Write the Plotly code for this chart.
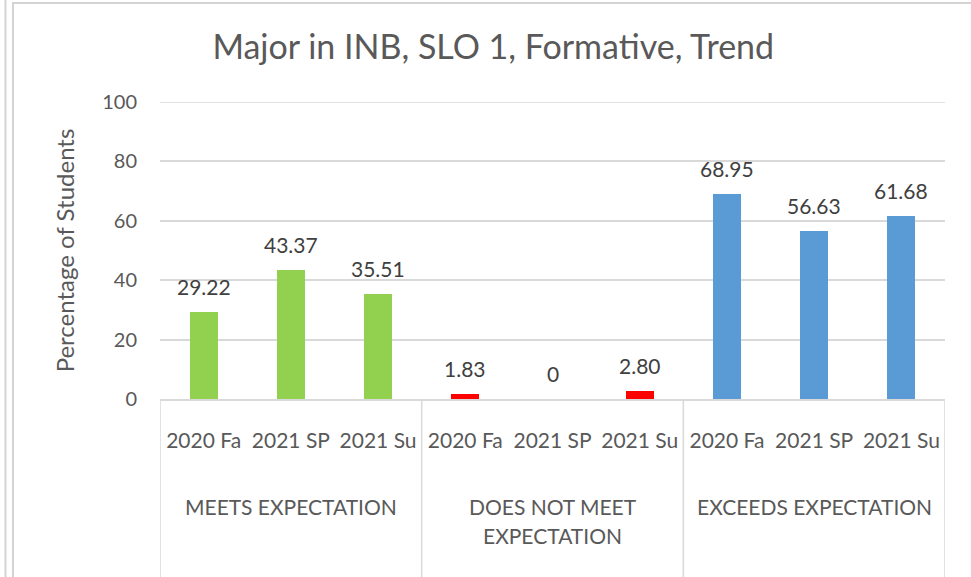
import plotly.graph_objects as go

# Chart data
groups = ["MEETS EXPECTATION", "DOES NOT MEET<br>EXPECTATION", "EXCEEDS EXPECTATION"]
periods = ["2020 Fa", "2021 SP", "2021 Su"]
meets = [29.22, 43.37, 35.51]
does_not_meet = [1.83, 0, 2.80]
exceeds = [68.95, 56.63, 61.68]
value_labels = [["29.22", "43.37", "35.51"], ["1.83", "0", "2.80"], ["68.95", "56.63", "61.68"]]
colors = ["#92D050", "#FF0000", "#5B9BD5"]
y_ticks = [0, 20, 40, 60, 80, 100]

series = [meets, does_not_meet, exceeds]
FONT = "Lato, 'Open Sans', sans-serif"
TXT = "#595959"
LABEL_TXT = "#404040"
GRID = "#D9D9D9"

W, H = 971, 577
ML, MR, MT, MB = 160, 26, 102, 178
PW, PH = W - ML - MR, H - MT - MB

fig = go.Figure()
annotations = []
tickvals, ticktext = [], []
n = len(periods)
for g, (vals, col, labs) in enumerate(zip(series, colors, value_labels)):
    xs = [g * n + i for i in range(n)]
    tickvals += xs
    ticktext += periods
    fig.add_trace(go.Bar(x=xs, y=vals, marker=dict(color=col, line=dict(width=0)),
                         width=0.32, showlegend=False, hoverinfo="y"))
    for x, v, lab in zip(xs, vals, labs):
        annotations.append(dict(x=x, y=v, xref="x", yref="y", text=lab, showarrow=False,
                                yanchor="bottom", yshift=11,
                                font=dict(family=FONT, size=21, color=LABEL_TXT)))
    # group label (one annotation per line) under the period labels
    for k, line in enumerate(groups[g].split("<br>")):
        annotations.append(dict(x=g * n + (n - 1) / 2, y=0, xref="x", yref="paper", text=line,
                                showarrow=False, yanchor="middle", yshift=-107 - 29 * k,
                                font=dict(family=FONT, size=21, color=TXT)))

shapes = []
# top gridline at 100
shapes.append(dict(type="line", xref="paper", yref="y", x0=0, x1=1, y0=100, y1=100,
                   line=dict(color=GRID, width=1.5), layer="below"))
# group dividers below the axis
for b in range(len(groups) + 1):
    xb = b * n - 0.5
    shapes.append(dict(type="line", xref="x", yref="paper", x0=xb, x1=xb,
                       y0=0, y1=-(MB + 5) / PH, line=dict(color=GRID, width=1.5)))

# outer frame lines
def px_to_paper_x(px):
    return (px - ML) / PW

def px_to_paper_y(py):
    return (H - MB - py) / PH

FRAME = "#D4D4D4"
shapes.append(dict(type="line", xref="paper", yref="paper", x0=px_to_paper_x(5.5), x1=px_to_paper_x(5.5),
                   y0=px_to_paper_y(-5), y1=px_to_paper_y(H + 5), line=dict(color=FRAME, width=2)))
shapes.append(dict(type="line", xref="paper", yref="paper", x0=px_to_paper_x(13), x1=px_to_paper_x(13),
                   y0=px_to_paper_y(3), y1=px_to_paper_y(H + 5), line=dict(color=FRAME, width=2)))
shapes.append(dict(type="line", xref="paper", yref="paper", x0=px_to_paper_x(12), x1=px_to_paper_x(W + 5),
                   y0=px_to_paper_y(3), y1=px_to_paper_y(3), line=dict(color=FRAME, width=2)))

fig.update_layout(
    width=W, height=H,
    margin=dict(l=ML, r=MR, t=MT, b=MB),
    paper_bgcolor="white", plot_bgcolor="white",
    title=dict(text="Major in INB, SLO 1, Formative, Trend", x=0.508, xanchor="center",
               y=1 - 47 / H, yanchor="middle",
               font=dict(family=FONT, size=34, color=TXT)),
    font=dict(family=FONT, color=TXT),
    xaxis=dict(range=[-0.5, len(groups) * n - 0.5], tickvals=tickvals, ticktext=ticktext,
               showgrid=False, zeroline=False, showline=True, linecolor=GRID, linewidth=1.5,
               ticks="", ticklabelstandoff=22, tickfont=dict(family=FONT, size=21, color=TXT),
               fixedrange=True),
    yaxis=dict(range=[0, 100], tickvals=y_ticks, showgrid=True, gridcolor=GRID, gridwidth=1.5,
               zeroline=False, showline=False, ticks="", ticklabelstandoff=22,
               tickfont=dict(family=FONT, size=20, color=TXT),
               title=dict(text="Percentage of Students", standoff=20,
                          font=dict(family=FONT, size=24, color=TXT)),
               fixedrange=True),
    annotations=annotations,
    shapes=shapes,
    bargap=0,
)

fig.write_html("out.html")
